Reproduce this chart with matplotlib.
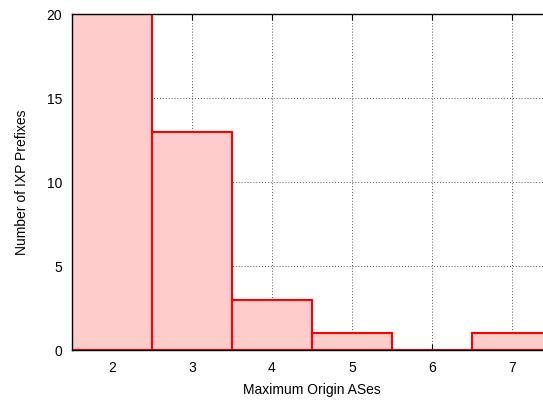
import numpy as np
import matplotlib.pyplot as plt

plt.rcParams['font.family'] = ['Liberation Sans', 'DejaVu Sans']
plt.rcParams['font.size'] = 10

max_origin = [2, 3, 4, 5, 6, 7]
n_prefixes = [20, 13, 3, 1, 0, 1]

fig = plt.figure(figsize=(5.43, 4.01), dpi=100)
# axes run past the right edge of the canvas
ax = fig.add_axes([72 / 543, 51 / 401, 480 / 543, 336 / 401])

ax.bar(max_origin, n_prefixes, width=1.0, color='#ffcccc', edgecolor='#ff0000',
       linewidth=1.5, zorder=3)

ax.set_xlim(1.5, 7.5)
ax.set_ylim(0, 20)
ax.set_xticks(max_origin)
ax.set_yticks([0, 5, 10, 15, 20])
ax.grid(True, color='#555555', linestyle=(0, (1, 2)), linewidth=0.7, zorder=0)
ax.tick_params(direction='in', length=4, top=True, right=True, color='black')
ax.tick_params(axis='x', pad=8)
ax.tick_params(axis='y', pad=7)
for s in ax.spines.values():
    s.set_linewidth(1.0)
    s.set_zorder(4)

ax.set_xlabel('Maximum Origin ASes', labelpad=6)
ax.set_ylabel('Number of IXP Prefixes', labelpad=13)

fig.savefig('out.png', dpi=100)
